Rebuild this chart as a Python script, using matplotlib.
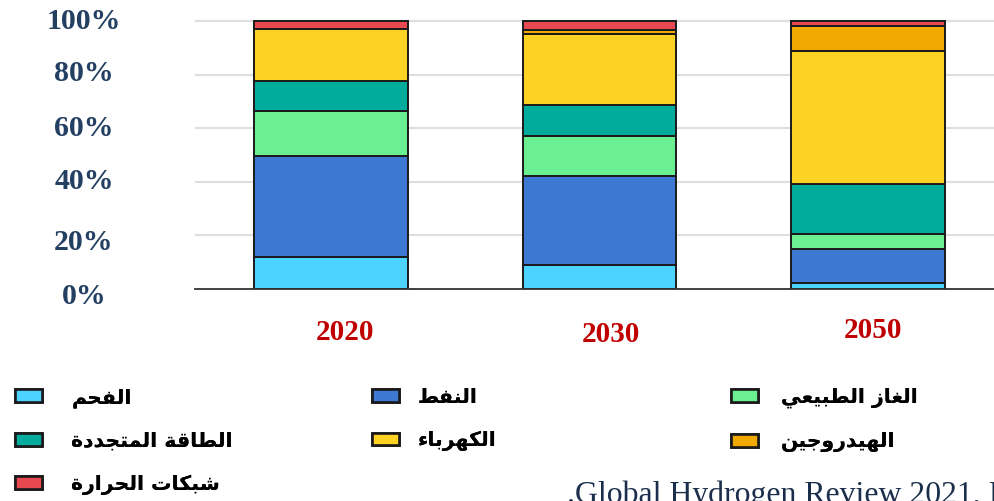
import matplotlib
matplotlib.use("Agg")
import matplotlib.pyplot as plt
from matplotlib.patches import Patch
from matplotlib.transforms import ScaledTranslation

# Data (shares in %)
years = ["2020", "2030", "2050"]
coal = [12.0, 9.0, 2.4]
oil = [37.6, 33.2, 12.4]
gas = [16.8, 14.9, 5.7]
renewables = [11.2, 11.6, 18.7]
electricity = [19.3, 26.3, 49.6]
hydrogen = [0.0, 1.6, 9.3]
heat = [3.1, 3.4, 1.9]

labels = ["الفحم", "النفط", "الغاز الطبيعي", "الطاقة المتجددة",
          "الكهرباء", "الهيدروجين", "شبكات الحرارة"]
colors = ["#4DD3FF", "#3D78D2", "#6AF090", "#02AC9C",
          "#FDD222", "#F1A800", "#E8484F"]
yticks = [0, 20, 40, 60, 80, 100]
source = ".Global Hydrogen Review 2021, IEA"

# matplotlib has no Arabic shaping, so pick contextual forms by hand
FORMS = {
    "ء": (0xFE80, None, None, None),
    "ا": (0xFE8D, 0xFE8E, None, None),
    "ب": (0xFE8F, 0xFE90, 0xFE91, 0xFE92),
    "ة": (0xFE93, 0xFE94, None, None),
    "ت": (0xFE95, 0xFE96, 0xFE97, 0xFE98),
    "ج": (0xFE9D, 0xFE9E, 0xFE9F, 0xFEA0),
    "ح": (0xFEA1, 0xFEA2, 0xFEA3, 0xFEA4),
    "د": (0xFEA9, 0xFEAA, None, None),
    "ر": (0xFEAD, 0xFEAE, None, None),
    "ز": (0xFEAF, 0xFEB0, None, None),
    "ش": (0xFEB5, 0xFEB6, 0xFEB7, 0xFEB8),
    "ط": (0xFEC1, 0xFEC2, 0xFEC3, 0xFEC4),
    "ع": (0xFEC9, 0xFECA, 0xFECB, 0xFECC),
    "غ": (0xFECD, 0xFECE, 0xFECF, 0xFED0),
    "ف": (0xFED1, 0xFED2, 0xFED3, 0xFED4),
    "ق": (0xFED5, 0xFED6, 0xFED7, 0xFED8),
    "ك": (0xFED9, 0xFEDA, 0xFEDB, 0xFEDC),
    "ل": (0xFEDD, 0xFEDE, 0xFEDF, 0xFEE0),
    "م": (0xFEE1, 0xFEE2, 0xFEE3, 0xFEE4),
    "ن": (0xFEE5, 0xFEE6, 0xFEE7, 0xFEE8),
    "ه": (0xFEE9, 0xFEEA, 0xFEEB, 0xFEEC),
    "و": (0xFEED, 0xFEEE, None, None),
    "ي": (0xFEF1, 0xFEF2, 0xFEF3, 0xFEF4),
}


def shape(text):
    out = []
    for i, ch in enumerate(text):
        f = FORMS.get(ch)
        if f is None:
            out.append(ch)
            continue
        prev = text[i - 1] if i > 0 else ""
        nxt = text[i + 1] if i + 1 < len(text) else ""
        jp = prev in FORMS and FORMS[prev][2] is not None and f[1] is not None
        jn = f[2] is not None and nxt in FORMS and FORMS[nxt][1] is not None
        form = 3 if (jp and jn) else 1 if jp else 2 if jn else 0
        out.append(chr(f[form]))
    return "".join(out)[::-1]


W, H = 995, 501
fig = plt.figure(figsize=(W / 100, H / 100), dpi=100)
ax = fig.add_axes([195 / W, 1 - 289 / H, 800 / W, 273.4 / H])

series = [coal, oil, gas, renewables, electricity, hydrogen, heat]
x = list(range(len(years)))
bottom = [0.0] * len(years)
handles = []
for vals, col, lab in zip(series, colors, labels):
    ax.bar(x, vals, bottom=bottom, width=0.57, color=col,
           edgecolor="#1a1a1a", linewidth=1.4, zorder=3)
    bottom = [b + v for b, v in zip(bottom, vals)]
    handles.append(Patch(facecolor=col, edgecolor="#1a1a1a", linewidth=1.9,
                         label=shape(lab)))

ax.set_xlim(-0.5065, 2.473)
ax.set_ylim(0, 102)
ax.set_yticks(yticks)
ax.set_yticklabels([f"{t}%" for t in yticks], family="Liberation Serif",
                   fontweight="bold", fontsize=21.5, color="#233F62", ha="center")
ax.tick_params(axis="y", length=0, pad=80)
# the original labels are not quite level with their grid lines
nudge = [4, 4, -3, -3, -4, -2]
for lbl, dy in zip(ax.get_yticklabels(), nudge):
    lbl.set_transform(lbl.get_transform() + ScaledTranslation(0, -dy / 100, fig.dpi_scale_trans))
ax.set_xticks([])
ax.grid(axis="y", color="#dedede", linewidth=1.5, zorder=0)
for side in ["left", "right", "top"]:
    ax.spines[side].set_visible(False)
ax.spines["bottom"].set_color("#333333")
ax.spines["bottom"].set_linewidth(1.3)
ax.spines["bottom"].set_zorder(4)

# year labels sit a little off the bar centres in the original
offsets = [(14, -43), (11, -46), (5, -41)]
for i, (yr, (dx, dy)) in enumerate(zip(years, offsets)):
    ax.annotate(yr, xy=(i, 0), xycoords=("data", "axes fraction"),
                xytext=(dx, dy), textcoords="offset pixels", ha="center",
                va="center", family="Liberation Serif", fontweight="bold",
                fontsize=21, color="#C00000", annotation_clip=False)

# legend: three columns, filled row by row
cols = [[0, 3, 6], [1, 4], [2, 5]]
col_x = [15, 372, 731]
text_pad = [1.45, 0.95, 1.15]
for idx, cx, tp in zip(cols, col_x, text_pad):
    leg = fig.legend([handles[k] for k in idx], [handles[k].get_label() for k in idx],
                     loc="upper left", bbox_to_anchor=(cx / W, 1 - 388 / H),
                     frameon=False, borderpad=0, borderaxespad=0,
                     handlelength=1.3, handleheight=0.58, handletextpad=tp,
                     labelspacing=1.18,
                     prop={"family": "DejaVu Sans", "weight": "bold", "size": 14.7})
    fig.add_artist(leg)

fig.text(567 / W, 1 - 503 / H, source, ha="left", va="baseline",
         family="Liberation Serif", fontsize=22.9, color="#1B2E4B")

fig.savefig("out.png", dpi=100)
